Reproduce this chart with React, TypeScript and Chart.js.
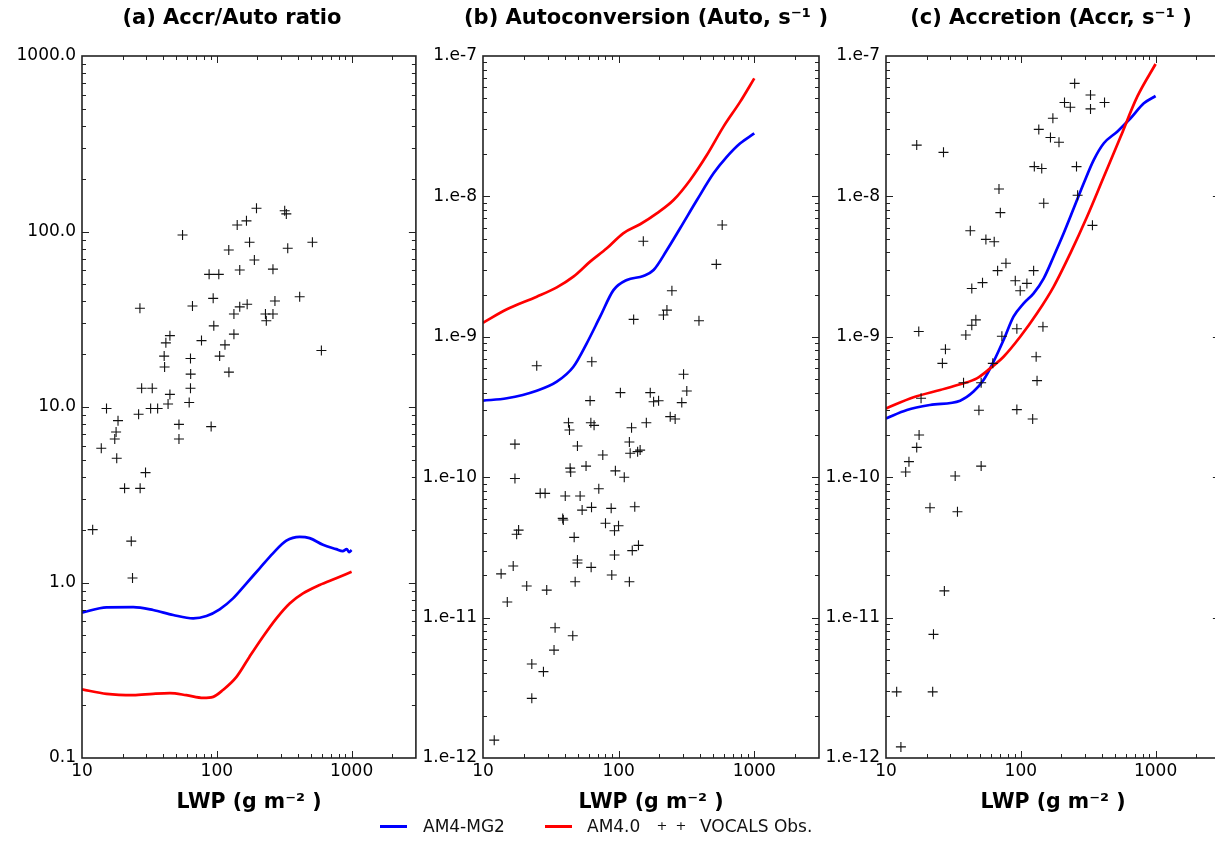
import React, { useEffect, useRef } from 'react';
import { Chart, registerables } from 'chart.js';

Chart.register(...registerables);

const FONT = "'DejaVu Sans', 'Noto Sans', sans-serif";

// ---------- tick labels ----------
const xTickValues = [10, 100, 1000];
const xTickLabels = ['10', '100', '1000'];
const yTickValuesA = [0.1, 1, 10, 100, 1000];
const yTickLabelsA = ['0.1', '1.0', '10.0', '100.0', '1000.0'];
const yTickValuesRate = [1e-12, 1e-11, 1e-10, 1e-9, 1e-8, 1e-7];
const yTickLabelsRate = ['1.e-12', '1.e-11', '1.e-10', '1.e-9', '1.e-8', '1.e-7'];

const panelTitles = ['(a) Accr/Auto ratio', '(b) Autoconversion (Auto, s⁻¹ )', '(c) Accretion (Accr, s⁻¹ )'];
const xAxisTitle = 'LWP (g m⁻² )';
const seriesNames = ['AM4-MG2', 'AM4.0', 'VOCALS Obs.'];

// ---------- panel (a): Accr/Auto ratio ----------
const lwpA_MG2 = [10, 15.2, 24, 33.7, 47.5, 66.8, 83.8, 105, 132, 166, 208, 261, 328, 412, 488, 613, 769, 860, 920, 960, 1000];
const ratioA_MG2 = [0.673, 0.722, 0.724, 0.697, 0.653, 0.625, 0.644, 0.703, 0.812, 0.989, 1.205, 1.466, 1.73, 1.82, 1.79, 1.64, 1.55, 1.51, 1.55, 1.49, 1.53];
const lwpA_AM4 = [10, 15.2, 24, 33.7, 44.9, 59.5, 79.3, 94, 111, 140, 175, 220, 277, 347, 436, 579, 769, 1000];
const ratioA_AM4 = [0.246, 0.232, 0.228, 0.232, 0.234, 0.228, 0.22, 0.223, 0.244, 0.29, 0.378, 0.491, 0.625, 0.76, 0.867, 0.968, 1.057, 1.15];
const lwpA_Obs = [197, 319, 328, 141.7, 166, 55.7, 175, 512, 122.7, 336, 190, 148, 261, 87.7, 103.5, 94, 412, 270, 168, 148, 66, 26.9, 134, 229.6, 261, 233, 95, 44.9, 41.9, 134, 77, 115, 40.7, 63.8, 105, 597, 41, 64, 123, 27.7, 33.2, 63.8, 44.9, 62.4, 15.2, 32.3, 36.4, 43.5, 26.3, 18.5, 17.9, 17.5, 52.4, 52.4, 90.8, 13.9, 18.1, 29.6, 20.7, 27, 12, 23.2, 23.7];
const ratioA_Obs = [135.6, 131.4, 126, 109, 115, 95.5, 86.8, 86.8, 78.5, 80.2, 68.8, 60.4, 61, 57, 57, 41.6, 42.5, 40.2, 38.5, 37.2, 37.6, 36.5, 33.9, 33.9, 33.9, 31, 29, 25.5, 23.2, 26, 23.9, 22.6, 19.5, 18.9, 19.5, 21, 16.9, 15.4, 15.8, 12.8, 12.8, 12.8, 11.8, 10.6, 9.8, 9.8, 9.8, 10.4, 9.1, 8.36, 7.2, 6.57, 7.96, 6.57, 7.73, 5.82, 5.1, 4.23, 3.44, 3.44, 2.0, 1.72, 1.06];

// ---------- panel (b): Autoconversion ----------
const lwpB_MG2 = [10, 15, 24.9, 35, 46.4, 58.2, 73, 91.6, 115, 152, 181, 227, 284, 378, 501, 629, 788, 1000];
const autoB_MG2 = [3.51e-10, 3.65e-10, 4.13e-10, 4.79e-10, 6.12e-10, 8.99e-10, 1.39e-9, 2.15e-9, 2.54e-9, 2.71e-9, 2.99e-9, 4.15e-9, 5.93e-9, 9.42e-9, 1.46e-8, 1.92e-8, 2.39e-8, 2.81e-8];
const lwpB_AM4 = [10, 15, 24.9, 35, 46.4, 61.6, 81.8, 108, 144, 191, 254, 337, 447, 593, 788, 1000];
const autoB_AM4 = [1.26e-9, 1.57e-9, 1.93e-9, 2.25e-9, 2.68e-9, 3.43e-9, 4.27e-9, 5.46e-9, 6.33e-9, 7.57e-9, 9.42e-9, 1.31e-8, 1.97e-8, 3.14e-8, 4.73e-8, 6.93e-8];
const lwpB_Obs = [152, 580, 525, 247, 227, 214, 129, 391, 24.9, 63.4, 301, 318, 103, 171, 61.6, 181, 197, 292, 42.7, 43.4, 62.4, 65.9, 160, 124.5, 240, 261, 17.2, 49.7, 120, 121.6, 76.4, 144, 138, 57.5, 43.9, 44.3, 94.6, 110, 17.2, 71.4, 26.4, 28.7, 40.4, 52, 53.8, 63.1, 88.1, 131.5, 38.7, 39.1, 80, 99.8, 93.2, 18.3, 17.7, 47, 140, 126, 93.2, 49.7, 49.7, 62.7, 16.7, 13.6, 89, 120, 47.8, 21, 29.5, 15.1, 34, 45.9, 33.4, 22.9, 27.9, 22.9, 12.1];
const autoB_Obs = [4.79e-9, 6.25e-9, 3.28e-9, 2.13e-9, 1.55e-9, 1.43e-9, 1.33e-9, 1.3e-9, 6.22e-10, 6.65e-10, 5.41e-10, 4.11e-10, 4.0e-10, 4.0e-10, 3.51e-10, 3.45e-10, 3.5e-10, 3.4e-10, 2.44e-10, 2.17e-10, 2.44e-10, 2.34e-10, 2.44e-10, 2.25e-10, 2.7e-10, 2.6e-10, 1.72e-10, 1.67e-10, 1.78e-10, 1.48e-10, 1.44e-10, 1.56e-10, 1.52e-10, 1.2e-10, 1.16e-10, 1.09e-10, 1.11e-10, 1.0e-10, 9.8e-11, 8.28e-11, 7.67e-11, 7.67e-11, 7.34e-11, 7.34e-11, 5.83e-11, 6.1e-11, 6.0e-11, 6.16e-11, 5.09e-11, 4.96e-11, 4.7e-11, 4.51e-11, 4.16e-11, 4.2e-11, 3.92e-11, 3.73e-11, 3.27e-11, 3.0e-11, 2.79e-11, 2.57e-11, 2.45e-11, 2.28e-11, 2.33e-11, 2.05e-11, 2.01e-11, 1.8e-11, 1.8e-11, 1.68e-11, 1.57e-11, 1.29e-11, 8.47e-12, 7.43e-12, 5.87e-12, 4.67e-12, 4.12e-12, 2.66e-12, 1.34e-12];

// ---------- panel (c): Accretion ----------
const lwpC_MG2 = [10, 14.3, 21.2, 35.5, 44.6, 52.9, 62.8, 74.5, 88.3, 105, 124.5, 148, 175, 208, 247, 293, 348, 413, 519, 652, 818, 1000];
const accrC_MG2 = [2.62e-10, 3.01e-10, 3.27e-10, 3.51e-10, 4.07e-10, 4.92e-10, 6.65e-10, 9.48e-10, 1.39e-9, 1.73e-9, 2.04e-9, 2.61e-9, 3.72e-9, 5.46e-9, 8.22e-9, 1.24e-8, 1.82e-8, 2.39e-8, 2.89e-8, 3.6e-8, 4.6e-8, 5.19e-8];
const lwpC_AM4 = [10, 16, 25.2, 35.5, 47.2, 59.3, 74.5, 99, 132, 175, 233, 310, 413, 550, 731, 1000];
const accrC_AM4 = [3.09e-10, 3.71e-10, 4.18e-10, 4.59e-10, 5.06e-10, 5.96e-10, 7.21e-10, 1.0e-9, 1.47e-9, 2.27e-9, 3.93e-9, 7.16e-9, 1.38e-8, 2.66e-8, 5.13e-8, 8.77e-8];
const lwpC_Obs = [251, 329, 329, 211, 233, 418, 173, 136, 166, 192, 16.9, 26.7, 126, 143, 259, 68.9, 264, 148, 70.5, 340, 42.2, 55.1, 63.5, 77.6, 67.3, 124.5, 91, 111, 99, 52, 43.3, 46.4, 43.3, 17.5, 39.1, 93.5, 146, 72.4, 27.6, 26.2, 130, 62, 37.6, 50.8, 132, 18.2, 48.9, 93.5, 122.5, 17.6, 16.9, 14.8, 14.0, 50.8, 32.6, 21.2, 33.9, 27.1, 22.5, 12, 22.2, 12.9];
const accrC_Obs = [6.38e-8, 5.27e-8, 4.2e-8, 4.66e-8, 4.31e-8, 4.66e-8, 3.6e-8, 3.0e-8, 2.63e-8, 2.43e-8, 2.32e-8, 2.06e-8, 1.63e-8, 1.58e-8, 1.63e-8, 1.13e-8, 1.02e-8, 8.93e-9, 7.66e-9, 6.22e-9, 5.7e-9, 4.94e-9, 4.75e-9, 3.34e-9, 2.96e-9, 2.96e-9, 2.51e-9, 2.4e-9, 2.13e-9, 2.43e-9, 2.21e-9, 1.32e-9, 1.21e-9, 1.09e-9, 1.03e-9, 1.14e-9, 1.18e-9, 1.01e-9, 8.15e-10, 6.47e-10, 7.21e-10, 6.47e-10, 4.71e-10, 4.71e-10, 4.87e-10, 3.65e-10, 3.0e-10, 3.03e-10, 2.6e-10, 2.0e-10, 1.63e-10, 1.29e-10, 1.09e-10, 1.2e-10, 1.02e-10, 6.06e-11, 5.68e-11, 1.55e-11, 7.6e-12, 2.96e-12, 2.96e-12, 1.2e-12];

const BLUE = '#0000ff';
const RED = '#ff0000';

const pts = (xs: number[], ys: number[]) => xs.map((x, i) => ({ x, y: ys[i] }));

function logTickList(min: number, max: number) {
  const out: { v: number; major: boolean }[] = [];
  const e0 = Math.floor(Math.log10(min));
  const e1 = Math.ceil(Math.log10(max));
  for (let e = e0; e <= e1; e++) {
    for (let m = 1; m <= 9; m++) {
      const v = Number((m * Math.pow(10, e)).toPrecision(6));
      if (v > min * 1.0001 && v < max * 0.9999) out.push({ v, major: m === 1 });
    }
  }
  return out;
}

const frameTicks = {
  id: 'frameTicks',
  afterDatasetsDraw(chart: any) {
    const { ctx, chartArea: a, scales } = chart;
    const xs = scales.x;
    const ys = scales.y;
    ctx.save();
    ctx.strokeStyle = '#222';
    ctx.lineWidth = 1;
    ctx.beginPath();
    for (const t of logTickList(xs.min, xs.max)) {
      const p = Math.round(xs.getPixelForValue(t.v)) + 0.5;
      const len = t.major ? 7 : 4;
      ctx.moveTo(p, a.bottom);
      ctx.lineTo(p, a.bottom - len);
      ctx.moveTo(p, a.top);
      ctx.lineTo(p, a.top + len);
    }
    for (const t of logTickList(ys.min, ys.max)) {
      const p = Math.round(ys.getPixelForValue(t.v)) + 0.5;
      const len = t.major ? 7 : 4;
      ctx.moveTo(a.left, p);
      ctx.lineTo(a.left + len, p);
      ctx.moveTo(a.right, p);
      ctx.lineTo(a.right - len, p);
    }
    ctx.stroke();
    ctx.lineWidth = 1.6;
    ctx.strokeRect(a.left, a.top, a.right - a.left, a.bottom - a.top);
    ctx.restore();
  },
};

// panel title drawn as canvas text, centred over the axes with a small offset
const panelTitle = {
  id: 'panelTitle',
  afterDraw(chart: any, _args: any, opts: any) {
    const { ctx, chartArea: a } = chart;
    ctx.save();
    ctx.font = `bold 21px ${FONT}`;
    ctx.fillStyle = '#000';
    ctx.textAlign = 'center';
    ctx.textBaseline = 'middle';
    ctx.fillText(opts.text, (a.left + a.right) / 2 + (opts.dx || 0), 19);
    ctx.restore();
  },
};

type PanelProps = {
  left: number;
  width: number;
  padR: number;
  yW: number;
  title: string;
  titleDx: number;
  yMin: number;
  yMax: number;
  yTicks: number[];
  yLabels: string[];
  obs: { x: number; y: number }[];
  mg2: { x: number; y: number }[];
  am4: { x: number; y: number }[];
};

const HEIGHT = 815;

function Panel(p: PanelProps) {
  const ref = useRef<HTMLCanvasElement | null>(null);
  useEffect(() => {
    if (!ref.current) return;
    const tickFont = { family: FONT, size: 17 };
    const chart = new Chart(ref.current, {
      type: 'scatter',
      data: {
        datasets: [
          {
            label: seriesNames[2],
            data: p.obs,
            pointStyle: 'cross',
            pointRadius: 5,
            pointBorderWidth: 1.1,
            borderColor: '#111',
            backgroundColor: '#111',
            showLine: false,
          },
          {
            label: seriesNames[1],
            data: p.am4,
            showLine: true,
            borderColor: RED,
            borderWidth: 2.7,
            pointRadius: 0,
            cubicInterpolationMode: 'monotone',
          },
          {
            label: seriesNames[0],
            data: p.mg2,
            showLine: true,
            borderColor: BLUE,
            borderWidth: 2.7,
            pointRadius: 0,
            cubicInterpolationMode: 'monotone',
          },
        ],
      },
      options: {
        responsive: false,
        animation: false,
        devicePixelRatio: 1,
        layout: { padding: { left: 0, right: p.padR, top: 56, bottom: 0 } },
        plugins: {
          legend: { display: false },
          tooltip: { enabled: false },
          title: { display: false },
          panelTitle: { text: p.title, dx: p.titleDx },
        },
        scales: {
          x: {
            type: 'logarithmic',
            min: 10,
            max: 3000,
            afterBuildTicks: (s: any) => {
              s.ticks = xTickValues.map((v) => ({ value: v }));
            },
            afterFit: (s: any) => {
              s.height = 57;
            },
            ticks: {
              callback: (_v: any, i: number) => xTickLabels[i],
              font: tickFont,
              color: '#000',
              padding: 3,
              autoSkip: false,
              maxRotation: 0,
            },
            grid: { display: false, drawTicks: false },
            border: { display: false },
            title: {
              display: true,
              text: xAxisTitle,
              color: '#000',
              font: { family: FONT, size: 20.5, weight: 'bold' },
              padding: 0,
            },
          },
          y: {
            type: 'logarithmic',
            min: p.yMin,
            max: p.yMax,
            afterBuildTicks: (s: any) => {
              s.ticks = p.yTicks.map((v) => ({ value: v }));
            },
            afterFit: (s: any) => {
              s.width = p.yW;
            },
            ticks: {
              callback: (_v: any, i: number) => p.yLabels[i],
              font: tickFont,
              color: '#000',
              padding: 6,
              autoSkip: false,
            },
            grid: { display: false, drawTicks: false },
            border: { display: false },
          },
        },
      } as any,
      plugins: [frameTicks, panelTitle],
    });
    return () => chart.destroy();
  }, []);
  return (
    <canvas
      ref={ref}
      width={p.width}
      height={HEIGHT}
      style={{ position: 'absolute', left: p.left, top: 0, width: p.width, height: HEIGHT }}
    />
  );
}

const legendText: React.CSSProperties = {
  position: 'absolute',
  top: 815,
  height: 22,
  lineHeight: '22px',
  fontFamily: FONT,
  fontSize: 17,
  color: '#111',
  whiteSpace: 'nowrap',
};

export default function App() {
  return (
    <div
      style={{
        position: 'fixed',
        left: 0,
        top: 0,
        width: 1215,
        height: 846,
        overflow: 'hidden',
        background: '#fff',
      }}
    >
      <Panel
        left={0}
        width={422}
        padR={4}
        yW={82}
        title={panelTitles[0]}
        titleDx={-17}
        yMin={0.1}
        yMax={1000}
        yTicks={yTickValuesA}
        yLabels={yTickLabelsA}
        obs={pts(lwpA_Obs, ratioA_Obs)}
        mg2={pts(lwpA_MG2, ratioA_MG2)}
        am4={pts(lwpA_AM4, ratioA_AM4)}
      />
      <Panel
        left={420}
        width={420}
        padR={21}
        yW={63}
        title={panelTitles[1]}
        titleDx={-5}
        yMin={1e-12}
        yMax={1e-7}
        yTicks={yTickValuesRate}
        yLabels={yTickLabelsRate}
        obs={pts(lwpB_Obs, autoB_Obs)}
        mg2={pts(lwpB_MG2, autoB_MG2)}
        am4={pts(lwpB_AM4, autoB_AM4)}
      />
      <Panel
        left={822}
        width={404}
        padR={4}
        yW={64}
        title={panelTitles[2]}
        titleDx={-2}
        yMin={1e-12}
        yMax={1e-7}
        yTicks={yTickValuesRate}
        yLabels={yTickLabelsRate}
        obs={pts(lwpC_Obs, accrC_Obs)}
        mg2={pts(lwpC_MG2, accrC_MG2)}
        am4={pts(lwpC_AM4, accrC_AM4)}
      />
      <div style={{ position: 'absolute', left: 380, top: 825, width: 27, height: 3, background: BLUE }} />
      <div style={{ ...legendText, left: 423 }}>{seriesNames[0]}</div>
      <div style={{ position: 'absolute', left: 545, top: 825, width: 27, height: 3, background: RED }} />
      <div style={{ ...legendText, left: 587 }}>{seriesNames[1]}</div>
      <div style={{ ...legendText, left: 656, width: 12, textAlign: 'center', fontSize: 13 }}>+</div>
      <div style={{ ...legendText, left: 675, width: 12, textAlign: 'center', fontSize: 13 }}>+</div>
      <div style={{ ...legendText, left: 700 }}>{seriesNames[2]}</div>
    </div>
  );
}
